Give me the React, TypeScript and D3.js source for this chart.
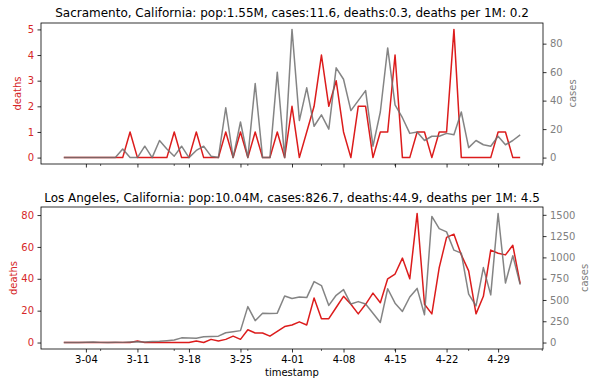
import { useEffect, useRef } from 'react';
import * as d3 from 'd3';

// Daily values, 2020-03-01 .. 2020-05-02
const firstDay = new Date(2020, 2, 1);
const lastDay = new Date(2020, 4, 2);

const sacDeaths = [
  0, 0, 0, 0, 0, 0, 0, 0, 0, 1,
  0, 0, 0, 0, 0, 1, 0, 0, 1, 0,
  0, 0, 1, 0, 1, 0, 1, 0, 0, 1,
  0, 2, 0, 1, 2, 4, 2, 3, 1, 0,
  2, 2, 0, 1, 1, 4, 0, 0, 1, 1,
  0, 1, 1, 5, 0, 0, 0, 0, 0, 1,
  1, 0, 0,
];
const sacCases = [
  0, 0, 0, 0, 0, 0, 0, 0, 6, 0,
  0, 8, 0, 12, 6, 1, 8, 0, 5, 8,
  1, 0, 35, 0, 25, 0, 52, 0, 0, 60,
  0, 90, 26, 49, 22, 30, 20, 63, 55, 33,
  40, 47, 8, 32, 77, 37, 28, 17, 18, 12,
  15, 15, 17, 16, 32, 7, 12, 9, 8, 15,
  9, 12, 16,
];
const laDeaths = [
  0, 0, 0, 0, 0, 0, 0, 0, 0, 0,
  1, 0, 0, 0, 0, 0, 0, 0, 1, 0,
  2, 1, 2, 4, 2, 8, 6, 6, 4, 7,
  10, 11, 13, 11, 28, 15, 15, 22, 29, 24,
  18, 24, 31, 25, 40, 43, 53, 40, 81, 24,
  18, 47, 66, 68, 55, 45, 18, 29, 58, 56,
  55, 61, 37,
];
const laCases = [
  0, 0, 0, 3, 5, 2, 1, 3, 2, 5,
  8, 5, 12, 15, 22, 30, 55, 52, 50, 68,
  72, 75, 115, 127, 140, 422, 257, 343, 340, 345,
  547, 518, 535, 528, 716, 669, 436, 555, 622, 452,
  481, 452, 345, 236, 632, 462, 366, 535, 636, 326,
  1481, 1338, 1300, 1085, 1050, 568, 430, 880, 560, 1516,
  700, 1020, 680,
];

const sacTitle = 'Sacramento, California: pop:1.55M, cases:11.6, deaths:0.3, deaths per 1M: 0.2';
const laTitle = 'Los Angeles, California: pop:10.04M, cases:826.7, deaths:44.9, deaths per 1M: 4.5';

const sacDeathTicks = [0, 1, 2, 3, 4, 5];
const sacCaseTicks = [0, 20, 40, 60, 80];
const laDeathTicks = [0, 20, 40, 60, 80];
const laCaseTicks = [0, 250, 500, 750, 1000, 1250, 1500];

const minorTickDays = ['2020-03-06', '2020-03-16', '2020-03-26', '2020-04-05', '2020-04-15', '2020-04-25', '2020-05-05'];

const WIDTH = 596;
const HEIGHT = 387;
const FONT = '"DejaVu Sans", sans-serif';
const RED_LINE = '#dc1c1c';
const RED_TEXT = '#d62728';
const GRAY = '#6e6e6e';
const GRAY_TEXT = '#808080';

export default function App() {
  const svgRef = useRef<SVGSVGElement>(null);

  useEffect(() => {
    if (!svgRef.current) return;
    d3.select(svgRef.current).selectAll('*').remove();

    const svg = d3.select(svgRef.current);
    svg.append('rect').attr('width', WIDTH).attr('height', HEIGHT).attr('fill', 'white');

    const days = d3.timeDay.range(firstDay, d3.timeDay.offset(lastDay, 1));
    const span = lastDay.getTime() - firstDay.getTime();
    const left = 41;
    const right = 543;

    const x = d3
      .scaleTime()
      .domain([new Date(firstDay.getTime() - span * 0.05), new Date(lastDay.getTime() + span * 0.05)])
      .range([left, right]);

    const majorTicks = d3.timeWednesday.range(firstDay, lastDay);
    const parse = d3.timeParse('%Y-%m-%d');
    const minorTicks = minorTickDays.map((d) => parse(d) as Date);
    const fmt = d3.timeFormat('%-m-%d');

    const panels = [
      {
        title: sacTitle, deaths: sacDeaths, cases: sacCases,
        deathTicks: sacDeathTicks, caseTicks: sacCaseTicks,
        top: 23, bottom: 164, titleY: 17.3, labels: false,
        deathLabelX: 20.7, caseLabelX: 575.5,
      },
      {
        title: laTitle, deaths: laDeaths, cases: laCases,
        deathTicks: laDeathTicks, caseTicks: laCaseTicks,
        top: 207, bottom: 349, titleY: 202, labels: true,
        deathLabelX: 16.7, caseLabelX: 587.5,
      },
    ];

    const padded = (vals: number[]) => {
      const [lo, hi] = d3.extent(vals) as [number, number];
      const m = (hi - lo) * 0.05;
      return [lo - m, hi + m];
    };

    panels.forEach((p) => {
      const yD = d3.scaleLinear().domain(padded(p.deaths)).range([p.bottom, p.top]);
      const yC = d3.scaleLinear().domain(padded(p.cases)).range([p.bottom, p.top]);
      const g = svg.append('g');

      // deaths line
      g.append('path')
        .datum(p.deaths)
        .attr('fill', 'none')
        .attr('stroke', RED_LINE)
        .attr('stroke-width', 1.5)
        .attr('stroke-linejoin', 'round')
        .attr('d', d3.line<number>().x((_, i) => x(days[i])).y((d) => yD(d)));

      // cases line (twin axis, drawn on top)
      g.append('path')
        .datum(p.cases)
        .attr('fill', 'none')
        .attr('stroke', GRAY)
        .attr('stroke-opacity', 0.85)
        .attr('stroke-width', 1.5)
        .attr('stroke-linejoin', 'round')
        .attr('d', d3.line<number>().x((_, i) => x(days[i])).y((d) => yC(d)));

      // frame
      g.append('rect')
        .attr('x', left)
        .attr('y', p.top)
        .attr('width', right - left)
        .attr('height', p.bottom - p.top)
        .attr('fill', 'none')
        .attr('stroke', 'black')
        .attr('stroke-width', 0.8);

      // left axis
      const la = g.append('g')
        .attr('transform', `translate(${left},0)`)
        .call(d3.axisLeft(yD).tickValues(p.deathTicks).tickSize(3.5).tickPadding(3.5).tickFormat(d3.format('d')));
      la.select('.domain').remove();
      la.selectAll('line').attr('stroke-width', 0.8);
      la.selectAll('text').attr('font-size', 10).attr('font-family', FONT).attr('fill', RED_TEXT);

      // right axis
      const ra = g.append('g')
        .attr('transform', `translate(${right},0)`)
        .call(d3.axisRight(yC).tickValues(p.caseTicks).tickSize(3.5).tickPadding(3.5).tickFormat(d3.format('d')));
      ra.select('.domain').remove();
      ra.selectAll('line').attr('stroke-width', 0.8);
      ra.selectAll('text').attr('font-size', 10).attr('font-family', FONT).attr('fill', GRAY_TEXT);

      // bottom axis
      const ba = g.append('g')
        .attr('transform', `translate(0,${p.bottom})`)
        .call(
          d3.axisBottom(x)
            .tickValues(majorTicks)
            .tickSize(3.5)
            .tickPadding(3.5)
            .tickFormat((d) => (p.labels ? fmt(d as Date) : ''))
        );
      ba.select('.domain').remove();
      ba.selectAll('line').attr('stroke-width', 0.8);
      ba.selectAll('text').attr('font-size', 10).attr('font-family', FONT).attr('fill', 'black');

      g.append('g')
        .selectAll('line')
        .data(minorTicks)
        .join('line')
        .attr('x1', (d) => x(d))
        .attr('x2', (d) => x(d))
        .attr('y1', p.bottom)
        .attr('y2', p.bottom + 2)
        .attr('stroke', 'black')
        .attr('stroke-width', 0.6);

      // title
      g.append('text')
        .attr('x', (left + right) / 2)
        .attr('y', p.titleY)
        .attr('text-anchor', 'middle')
        .attr('font-family', FONT)
        .attr('font-size', 12)
        .attr('fill', 'black')
        .text(p.title);

      const midY = (p.top + p.bottom) / 2;
      g.append('text')
        .attr('transform', `translate(${p.deathLabelX},${midY}) rotate(-90)`)
        .attr('text-anchor', 'middle')
        .attr('font-family', FONT)
        .attr('font-size', 10)
        .attr('fill', RED_TEXT)
        .text('deaths');

      g.append('text')
        .attr('transform', `translate(${p.caseLabelX},${midY}) rotate(-90)`)
        .attr('text-anchor', 'middle')
        .attr('font-family', FONT)
        .attr('font-size', 10)
        .attr('fill', GRAY_TEXT)
        .text('cases');
    });

    svg.append('text')
      .attr('x', (left + right) / 2)
      .attr('y', 376)
      .attr('text-anchor', 'middle')
      .attr('font-family', FONT)
      .attr('font-size', 10)
      .attr('fill', 'black')
      .text('timestamp');
  }, []);

  return (
    <div style={{ position: 'absolute', left: 0, top: 0 }}>
      <svg ref={svgRef} width={WIDTH} height={HEIGHT} style={{ display: 'block' }} />
    </div>
  );
}
